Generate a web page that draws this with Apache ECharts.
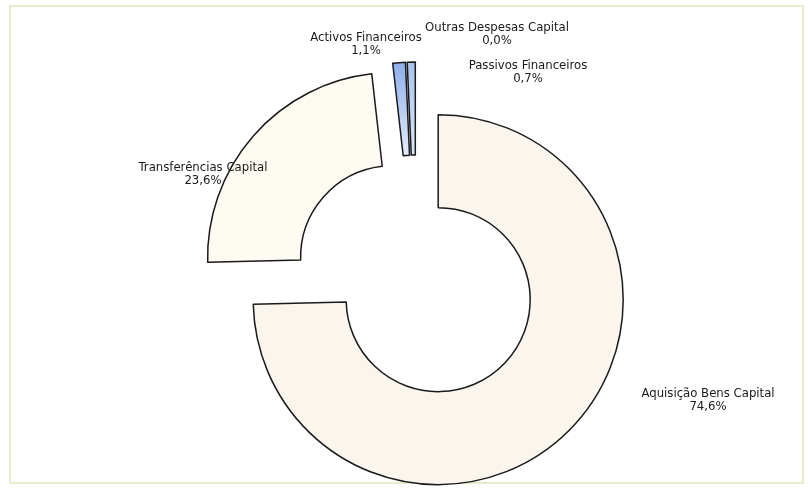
<!DOCTYPE html>
<html>
<head>
<meta charset="utf-8">
<script src="https://cdn.jsdelivr.net/npm/echarts@6/dist/echarts.min.js"></script>
<style>
html,body{margin:0;padding:0;background:#fff;}
#c{width:808px;height:488px;}
</style>
</head>
<body>
<div id="c"></div>
<script>
// Data
const categories = ['Aquisição Bens Capital', 'Transferências Capital', 'Activos Financeiros', 'Outras Despesas Capital', 'Passivos Financeiros'];
const shares = [74.6, 23.6, 1.1, 0.0, 0.7];

// Styling (not data)
const fills = [
  '#faf5ed',
  '#fefcf2',
  {type:'linear',x:0,y:0,x2:0,y2:1,colorStops:[{offset:0,color:'#8eaeea'},{offset:1,color:'#e4ecf9'}]},
  '#c8d8f2',
  {type:'linear',x:0,y:0,x2:0,y2:1,colorStops:[{offset:0,color:'#a9c3ee'},{offset:1,color:'#dbe6f7'}]}
];
const borderWidths = [1.5, 1.5, 1.5, 0, 1.5];
const labelPos = [[708,400],[203,174],[366,44],[497,34],[528,72]];

const fmt = v => v.toFixed(1).replace('.', ',') + '%';

const chart = echarts.init(document.getElementById('c'), null, {renderer:'canvas'});
const fontFam = '"Liberation Sans Narrow","Arial Narrow","DejaVu Sans Condensed","Liberation Sans",sans-serif';

const labelGraphics = categories.map((c,i) => ({
  type:'text',
  x:labelPos[i][0], y:labelPos[i][1],
  silent:true, z:100,
  style:{
    text:c + '\n' + fmt(shares[i]),
    fill:'#1a1a1a',
    font:'13px ' + fontFam,
    lineHeight:13,
    align:'center',
    verticalAlign:'middle'
  }
}));

chart.setOption({
  animation:false,
  backgroundColor:'#ffffff',
  graphic:[{
    type:'rect', shape:{x:10,y:6,width:793,height:477},
    style:{fill:'none',stroke:'#e4e4bc',lineWidth:1.5}, silent:true, z:-10
  }].concat(labelGraphics),
  series:[{
    type:'pie',
    center:[416,278],
    radius:[92,185],
    startAngle:90,
    clockwise:true,
    selectedMode:'multiple',
    selectedOffset:31,
    avoidLabelOverlap:false,
    itemStyle:{borderColor:'#1a1a1a',borderWidth:1.5},
    label:{show:false},
    labelLine:{show:false},
    emphasis:{disabled:true},
    data: categories.map((c,i) => ({
      name:c, value:shares[i], selected:true,
      itemStyle:{color:fills[i], borderWidth:borderWidths[i]},
      select:{itemStyle:{color:fills[i], borderColor:'#1a1a1a', borderWidth:borderWidths[i]}}
    }))
  }]
});
</script>
</body>
</html>
